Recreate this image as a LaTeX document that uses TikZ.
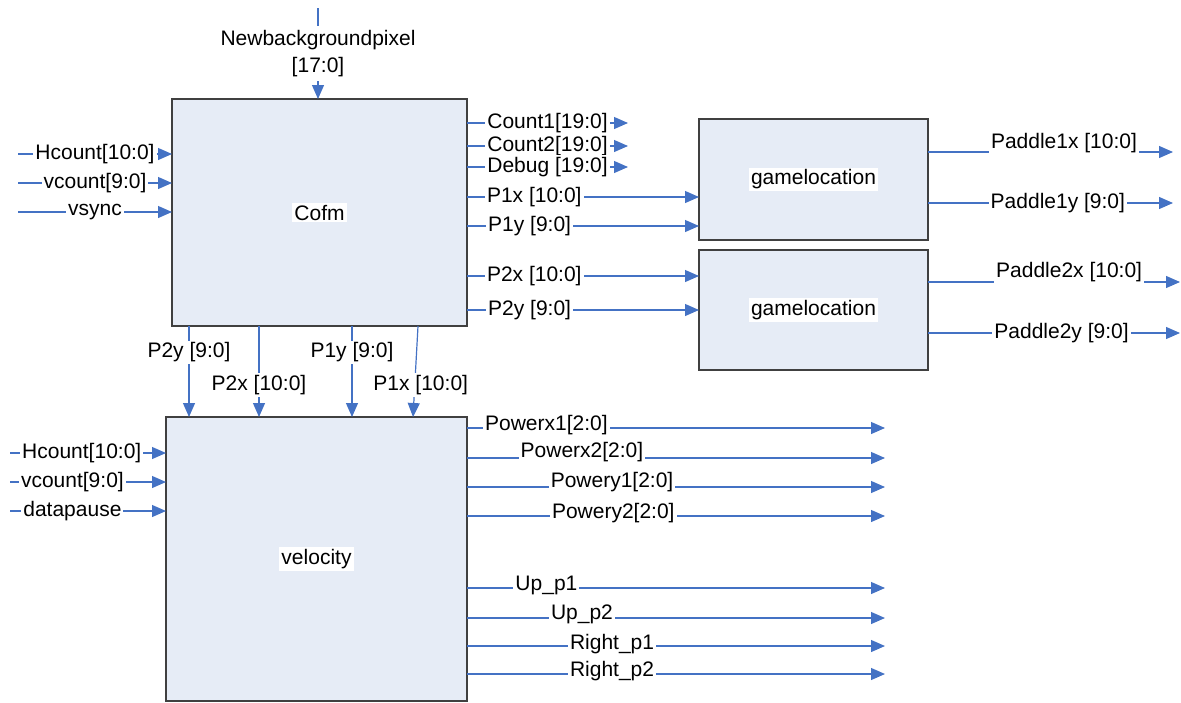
\documentclass[tikz,border=0pt]{standalone}
\usepackage{fontspec}
\setmainfont{Liberation Sans}
\usepackage{tikz}
\usetikzlibrary{arrows.meta,calc,positioning}
\definecolor{wireblue}{RGB}{68,114,196}
\definecolor{blockfill}{RGB}{230,236,246}
\definecolor{blockedge}{RGB}{64,64,64}

\begin{document}
\begin{tikzpicture}[x=0.5pt, y=-0.5pt,
  font=\fontsize{10.5}{13.5}\selectfont,
  blk/.style={draw=blockedge, fill=blockfill, line width=0.75pt, inner sep=0pt, outer sep=0pt},
  sig/.style={draw=wireblue, line width=0.6pt, -{Triangle[length=7pt, width=6pt]}},
  lbl/.style={fill=white, inner sep=1pt, text=black}]
  \useasboundingbox (0,0) rectangle (1181,702);
  % Blocks
  \node[blk, minimum width=147.5pt, minimum height=113.5pt, label={[lbl]center:Cofm}] (cofm) at (319.5,212.5) {};
  \node[blk, minimum width=114.5pt, minimum height=60.5pt, label={[lbl]center:gamelocation}] (gloc1) at (813.5,179.5) {};
  \node[blk, minimum width=114.5pt, minimum height=60pt, label={[lbl]center:gamelocation}] (gloc2) at (813.5,310) {};
  \node[blk, minimum width=150.5pt, minimum height=142pt, label={[lbl]center:velocity}] (vel) at (316.5,559) {};
  % Cofm inputs
  \coordinate (nbp) at (318,8);
  \draw[sig] (nbp) -- node[lbl, align=center, inner sep=2pt] {Newbackgroundpixel\\{[17:0]}} (nbp |- cofm.north);
  \foreach \y/\txt [count=\i] in {154/{Hcount[10:0]}, 183/{vcount[9:0]}, 212/vsync} {
    \coordinate (ci\i) at (18,\y);
    \draw[sig] (ci\i) -- node[lbl] {\txt} (ci\i -| cofm.west);
  }
  % Cofm outputs
  \foreach \y/\txt [count=\i] in {123/{Count1[19:0]}, 146/{Count2[19:0]}, 167/{Debug [19:0]}} {
    \coordinate (co\i) at (628,\y);
    \draw[sig] (cofm.east |- co\i) -- node[lbl] {\txt} (co\i);
  }
  \draw[sig] (cofm.east |- 0,197) -- node[lbl, pos=.29] {P1x [10:0]} (gloc1.west |- 0,197);
  \draw[sig] (cofm.east |- 0,226) -- node[lbl, pos=.27] {P1y [9:0]} (gloc1.west |- 0,226);
  \draw[sig] (cofm.east |- 0,276) -- node[lbl, pos=.29] {P2x [10:0]} (gloc2.west |- 0,276);
  \draw[sig] (cofm.east |- 0,310) -- node[lbl, pos=.27] {P2y [9:0]} (gloc2.west |- 0,310);
  % gamelocation outputs
  \coordinate (pd1x) at (1173,152);
  \coordinate (pd1y) at (1173,203);
  \coordinate (pd2x) at (1180,282);
  \coordinate (pd2y) at (1180,333);
  \draw[sig] (gloc1.east |- pd1x) -- node[lbl, pos=.555, yshift=4.5pt] {Paddle1x [10:0]} (pd1x);
  \draw[sig] (gloc1.east |- pd1y) -- node[lbl, pos=.53] {Paddle1y [9:0]} (pd1y);
  \draw[sig] (gloc2.east |- pd2x) -- node[lbl, pos=.56, yshift=4.75pt] {Paddle2x [10:0]} (pd2x);
  \draw[sig] (gloc2.east |- pd2y) -- node[lbl, pos=.53] {Paddle2y [9:0]} (pd2y);
  % Cofm to velocity
  \draw[sig] (189,0 |- cofm.south) -- node[lbl, pos=.29] {P2y [9:0]} (189,0 |- vel.north);
  \draw[sig] (259,0 |- cofm.south) -- node[lbl, pos=.65] {P2x [10:0]} (259,0 |- vel.north);
  \draw[sig] (352,0 |- cofm.south) -- node[lbl, pos=.29] {P1y [9:0]} (352,0 |- vel.north);
  \draw[sig] (418,0 |- cofm.south) -- node[lbl, pos=.65, xshift=3pt] {P1x [10:0]} (413,0 |- vel.north);
  % velocity inputs
  \foreach \y/\txt/\p [count=\i] in {453/{Hcount[10:0]}/.46, 482/{vcount[9:0]}/.40, 511/datapause/.40} {
    \coordinate (vi\i) at (10,\y);
    \draw[sig] (vi\i) -- node[lbl, pos=\p] {\txt} (vi\i -| vel.west);
  }
  % velocity outputs
  \foreach \y/\txt/\p/\s [count=\i] in {428/{Powerx1[2:0]}/.19/1.5, 458/{Powerx2[2:0]}/.275/3,
      487/{Powery1[2:0]}/.347/2.5, 516/{Powery2[2:0]}/.35/1.5, 588/Up\_p1/.19/1.5,
      618/Up\_p2/.275/2, 646/Right\_p1/.347/1, 674/Right\_p2/.347/1.5} {
    \coordinate (vo\i) at (885,\y);
    \draw[sig] (vel.east |- vo\i) -- node[lbl, pos=\p, yshift=\s pt] {\txt} (vo\i);
  }
\end{tikzpicture}
\end{document}
